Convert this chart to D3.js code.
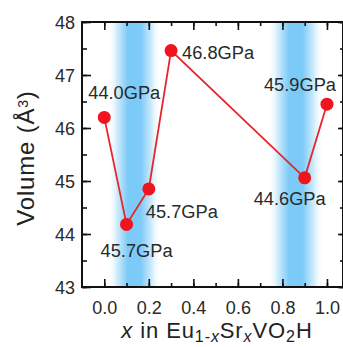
<!DOCTYPE html>
<html>
<head>
<meta charset="utf-8">
<script src="https://cdn.jsdelivr.net/npm/d3@7"></script>
<style>
  body { margin: 0; background: #fff; }
  svg { display: block; font-family: "Liberation Sans", Arial, sans-serif; }
</style>
</head>
<body>
<div id="chart"></div>
<script>
// data
const xs = [0.0, 0.1, 0.2, 0.3, 0.9, 1.0];
const volumes = [46.2, 44.18, 44.85, 47.46, 45.06, 46.45];
const pressureLabels = ['44.0GPa', '45.7GPa', '45.7GPa', '46.8GPa', '44.6GPa', '45.9GPa'];
const bands = [[0.015, 0.255], [0.735, 0.985]];
const xTicks = [0.0, 0.2, 0.4, 0.6, 0.8, 1.0];
const yTicks = [43, 44, 45, 46, 47, 48];

const W = 343, H = 347;
const margins = { top: 22, right: 0, bottom: 60, left: 82 };
const width = W - margins.left - margins.right;
const height = H - margins.top - margins.bottom;

const xScale = d3.scaleLinear().domain([-0.1, 1.072]).range([0, width]);
const yScale = d3.scaleLinear().domain([43, 48]).range([height, 0]);

const $svg = d3.select('#chart').append('svg')
  .attr('width', W)
  .attr('height', H);

const defs = $svg.append('defs');
const grad = defs.append('linearGradient')
  .attr('id', 'band-grad')
  .attr('x1', '0%').attr('x2', '100%').attr('y1', '0%').attr('y2', '0%');
[[0, '#ffffff', 0], [0.18, '#cdebfc', 1], [0.38, '#7ccaf7', 1], [0.62, '#7ccaf7', 1], [0.82, '#cdebfc', 1], [1, '#ffffff', 0]]
  .forEach(([o, c, a]) => grad.append('stop')
    .attr('offset', o)
    .attr('stop-color', c)
    .attr('stop-opacity', a));

const $g = $svg.append('g')
  .attr('transform', `translate(${margins.left}, ${margins.top})`);

// blue bands
$g.selectAll('.band')
  .data(bands)
  .enter()
  .append('rect')
  .classed('band', true)
  .attr('x', d => xScale(d[0]))
  .attr('width', d => xScale(d[1]) - xScale(d[0]))
  .attr('y', 0)
  .attr('height', height)
  .style('fill', 'url(#band-grad)');

// axes with inward ticks
const xMinor = d3.range(0, 11).map(i => i / 10);
const yMinor = d3.range(0, 11).map(i => 43 + i / 2);

function tickAxis(axisFn, scale, values, size, fmt) {
  return axisFn(scale).tickValues(values).tickSize(-size).tickPadding(size + 6)
    .tickFormat(fmt || (() => ''));
}

const axisStyle = sel => {
  sel.selectAll('path.domain').remove();
  sel.selectAll('line').attr('stroke', '#111').attr('stroke-width', 1.6);
  sel.selectAll('text').style('font-size', '18px').attr('fill', '#2a2a2a');
};

$g.append('g').attr('transform', `translate(0,${height})`)
  .call(tickAxis(d3.axisBottom, xScale, xMinor, 4)).call(axisStyle);
$g.append('g').attr('transform', `translate(0,${height})`)
  .call(tickAxis(d3.axisBottom, xScale, xTicks, 8, d3.format('.1f'))).call(axisStyle);
$g.append('g')
  .call(tickAxis(d3.axisTop, xScale, xMinor, 4)).call(axisStyle);
$g.append('g')
  .call(tickAxis(d3.axisTop, xScale, xTicks, 8)).call(axisStyle);

$g.append('g')
  .call(tickAxis(d3.axisLeft, yScale, yMinor, 5)).call(axisStyle);
$g.append('g')
  .call(tickAxis(d3.axisLeft, yScale, yTicks, 9, d3.format('d'))).call(axisStyle)
  .selectAll('text').attr('x', -7).attr('dy', '0.36em');
$g.append('g').attr('transform', `translate(${width},0)`)
  .call(tickAxis(d3.axisRight, yScale, yMinor, 3)).call(axisStyle);
$g.append('g').attr('transform', `translate(${width},0)`)
  .call(tickAxis(d3.axisRight, yScale, yTicks, 5)).call(axisStyle);

// frame
$g.append('rect')
  .attr('width', width)
  .attr('height', height)
  .attr('fill', 'none')
  .attr('stroke', '#111')
  .attr('stroke-width', 2);

// line and points
const pts = xs.map((x, i) => ({ x, v: volumes[i], label: pressureLabels[i] }));

$g.append('path')
  .datum(pts)
  .attr('d', d3.line().x(d => xScale(d.x)).y(d => yScale(d.v)))
  .attr('fill', 'none')
  .attr('stroke', '#e8252a')
  .attr('stroke-width', 1.8);

$g.selectAll('.dot')
  .data(pts)
  .enter()
  .append('circle')
  .classed('dot', true)
  .attr('cx', d => xScale(d.x))
  .attr('cy', d => yScale(d.v))
  .attr('r', 6.5)
  .style('fill', '#f0141e');

// pressure labels, offsets relative to each point
const labelOffsets = [[-16, -18], [-26, 33], [-3, 29], [11, 8], [-51, 27], [-63, -13]];
$g.selectAll('.plabel')
  .data(pts)
  .enter()
  .append('text')
  .classed('plabel', true)
  .attr('x', (d, i) => xScale(d.x) + labelOffsets[i][0])
  .attr('y', (d, i) => yScale(d.v) + labelOffsets[i][1])
  .attr('text-anchor', 'start')
  .style('font-size', '18px')
  .attr('textLength', 72)
  .attr('lengthAdjust', 'spacingAndGlyphs')
  .attr('fill', '#2a2a2a')
  .text(d => d.label);

// axis titles
const xt = $svg.append('text')
  .attr('x', 217)
  .attr('y', 338)
  .attr('text-anchor', 'middle')
  .style('font-size', '22px')
  .style('letter-spacing', '0.9px')
  .attr('fill', '#222');
const sub = (t, italic) => xt.append('tspan')
  .attr('baseline-shift', '-28%')
  .style('font-size', '16px')
  .style('font-style', italic ? 'italic' : 'normal')
  .text(t);
xt.append('tspan').style('font-style', 'italic').text('x');
xt.append('tspan').text(' in Eu');
sub('1-');
sub('x', true);
xt.append('tspan').text('Sr');
sub('x', true);
xt.append('tspan').text('VO');
sub('2');
xt.append('tspan').text('H');

const yt = $svg.append('text')
  .attr('transform', 'translate(34, 158) rotate(-90)')
  .attr('text-anchor', 'middle')
  .style('font-size', '24px')
  .style('letter-spacing', '0.8px')
  .attr('fill', '#222');
yt.append('tspan').text('Volume (Å');
yt.append('tspan').attr('baseline-shift', '45%').style('font-size', '14px').text('3');
yt.append('tspan').text(')');
</script>
</body>
</html>
